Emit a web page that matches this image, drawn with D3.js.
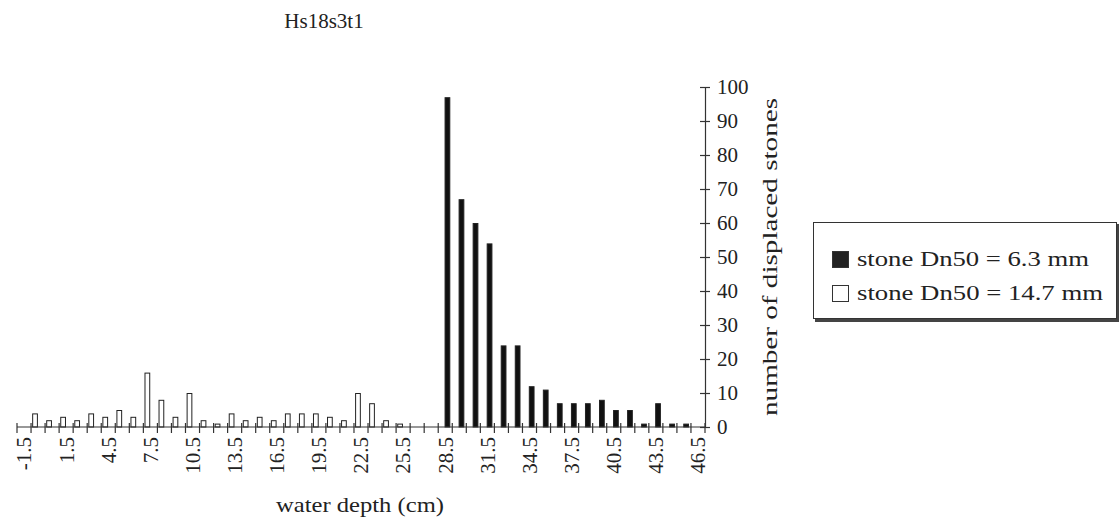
<!DOCTYPE html>
<html>
<head>
<meta charset="utf-8">
<script src="https://cdn.jsdelivr.net/npm/d3@7"></script>
<style>
  html, body { margin: 0; padding: 0; background: #fff; }
  svg { display: block; font-family: "Liberation Serif", "Times New Roman", serif; }
</style>
</head>
<body>
<svg id="chart" width="1119" height="530"></svg>
<script>
// ---- data ----
const depths = ["-1.5","-0.5","0.5","1.5","2.5","3.5","4.5","5.5","6.5","7.5","8.5","9.5","10.5","11.5","12.5","13.5","14.5","15.5","16.5","17.5","18.5","19.5","20.5","21.5","22.5","23.5","24.5","25.5","26.5","27.5","28.5","29.5","30.5","31.5","32.5","33.5","34.5","35.5","36.5","37.5","38.5","39.5","40.5","41.5","42.5","43.5","44.5","45.5","46.5"];
// stone Dn50 = 14.7 mm (white bars)
const whiteValues = [0,4,2,3,2,4,3,5,3,16,8,3,10,2,1,4,2,3,2,4,4,4,3,2,10,7,2,1,0,0,0,0,0,0,0,0,0,0,0,0,0,0,0,0,0,0,0,0,0];
// stone Dn50 = 6.3 mm (black bars)
const blackValues = [0,0,0,0,0,0,0,0,0,0,0,0,0,0,0,0,0,0,0,0,0,0,0,0,0,0,0,0,0,0,97,67,60,54,24,24,12,11,7,7,7,8,5,5,1,7,1,1,0];
const xTickLabels = ["-1.5","1.5","4.5","7.5","10.5","13.5","16.5","19.5","22.5","25.5","28.5","31.5","34.5","37.5","40.5","43.5","46.5"];
const yTicks = [0,10,20,30,40,50,60,70,80,90,100];
const seriesNames = ["stone Dn50 = 6.3 mm", "stone Dn50 = 14.7 mm"];
const titleText = "Hs18s3t1";
const xTitle = "water depth (cm)";
const yTitle = "number of displaced stones";

// ---- layout ----
const svg = d3.select("#chart");
const plotLeft = 17, plotRight = 705, plotTop = 87, plotBottom = 427;

const x = d3.scaleBand().domain(depths).range([plotLeft, plotRight]).padding(0);
const sub = d3.scaleBand().domain(["white", "black"]).range([x.bandwidth() * 0.08, x.bandwidth() * 0.86]).paddingInner(-0.1);
const y = d3.scaleLinear().domain([0, 100]).range([plotBottom, plotTop]);

const fontSize = 21;

// title
svg.append("text")
  .attr("x", 324).attr("y", 28)
  .attr("text-anchor", "middle")
  .attr("font-size", fontSize)
  .attr("fill", "#222")
  .text(titleText);

// bars
const barData = [];
depths.forEach((d, i) => {
  if (whiteValues[i] > 0) barData.push({ d, s: "white", v: whiteValues[i] });
  if (blackValues[i] > 0) barData.push({ d, s: "black", v: blackValues[i] });
});
svg.append("g").selectAll("rect")
  .data(barData)
  .join("rect")
  .attr("x", b => x(b.d) + sub(b.s) + 0.5)
  .attr("y", b => y(b.v) + 0.5)
  .attr("width", sub.bandwidth() - 1)
  .attr("height", b => y(0) - y(b.v) - 0.5)
  .attr("fill", b => b.s === "black" ? "#111" : "#fff")
  .attr("stroke", "#222")
  .attr("stroke-width", 1);

// x axis line & ticks (between categories)
const xAxisG = svg.append("g").attr("stroke", "#333").attr("stroke-width", 1.2);
xAxisG.append("line")
  .attr("x1", plotLeft).attr("x2", plotRight)
  .attr("y1", plotBottom).attr("y2", plotBottom);
const boundaries = depths.map(d => x(d)).concat([plotRight]);
xAxisG.selectAll("line.tick")
  .data(boundaries)
  .join("line")
  .attr("class", "tick")
  .attr("x1", d => d).attr("x2", d => d)
  .attr("y1", plotBottom - 4).attr("y2", plotBottom + 6);

// x tick labels
svg.append("g").selectAll("text")
  .data(xTickLabels)
  .join("text")
  .attr("transform", d => `translate(${x(d) + x.bandwidth() / 2},${plotBottom + 10}) rotate(-90)`)
  .attr("text-anchor", "end")
  .attr("dy", "0.35em")
  .attr("font-size", fontSize)
  .attr("fill", "#222")
  .text(d => d);

// y axis (right side)
const yAxis = d3.axisRight(y).tickValues(yTicks).tickSize(0).tickPadding(12);
const yG = svg.append("g")
  .attr("transform", `translate(${plotRight},0)`)
  .call(yAxis);
yG.select(".domain").attr("stroke", "#333").attr("stroke-width", 1.2);
yG.selectAll(".tick text").attr("font-size", fontSize).attr("fill", "#222")
  .attr("font-family", "Liberation Serif, Times New Roman, serif");
yG.selectAll(".tick").append("line")
  .attr("x1", -5).attr("x2", 5)
  .attr("stroke", "#333").attr("stroke-width", 1.2);

// y title
svg.append("text")
  .attr("transform", `translate(777,257) rotate(-90)`)
  .attr("text-anchor", "middle")
  .attr("font-size", fontSize)
  .attr("fill", "#222")
  .attr("textLength", 318)
  .attr("lengthAdjust", "spacingAndGlyphs")
  .text(yTitle);

// x title
svg.append("text")
  .attr("x", 360).attr("y", 512)
  .attr("text-anchor", "middle")
  .attr("font-size", fontSize)
  .attr("fill", "#222")
  .attr("textLength", 168)
  .attr("lengthAdjust", "spacingAndGlyphs")
  .text(xTitle);

// legend
const lg = svg.append("g");
lg.append("rect").attr("x", 815).attr("y", 224).attr("width", 304).attr("height", 98).attr("fill", "#444");
lg.append("rect").attr("x", 813.5).attr("y", 222.5).attr("width", 303).attr("height", 96)
  .attr("fill", "#fff").attr("stroke", "#333").attr("stroke-width", 1);
const legendItems = [
  { name: seriesNames[0], fill: "#222", cy: 259, len: 232 },
  { name: seriesNames[1], fill: "#fff", cy: 293, len: 246 }
];
legendItems.forEach(it => {
  lg.append("rect").attr("x", 832.5).attr("y", it.cy - 7.5).attr("width", 16).attr("height", 16)
    .attr("fill", it.fill).attr("stroke", "#333").attr("stroke-width", 1);
  lg.append("text").attr("x", 857).attr("y", it.cy).attr("dy", "0.35em")
    .attr("font-size", fontSize).attr("fill", "#222")
    .attr("textLength", it.len)
    .attr("lengthAdjust", "spacingAndGlyphs")
    .text(it.name);
});
</script>
</body>
</html>
